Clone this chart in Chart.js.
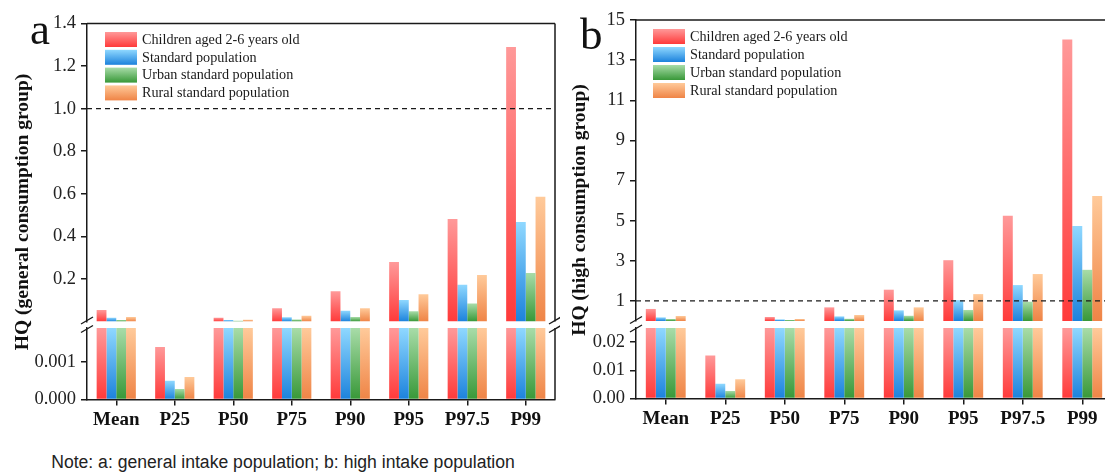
<!DOCTYPE html>
<html>
<head>
<meta charset="utf-8">
<title>HQ by percentile</title>
<script src="https://cdn.jsdelivr.net/npm/chart.js@4.4.1/dist/chart.umd.min.js"></script>
<style>
  html, body { margin: 0; padding: 0; background: #fff; }
  body { position: relative; width: 1105px; height: 472px; overflow: hidden; }
  canvas { position: absolute; }
  .serif { position: absolute; font-family: "Liberation Serif", "Times New Roman", serif; color: #111; white-space: nowrap; line-height: 1; }
  .panel { font-size: 45px; }
  .ytitle { font-size: 19.5px; font-weight: bold; transform: translate(-50%, -50%) rotate(-90deg); }
  .note { position: absolute; font-family: "Liberation Sans", Arial, sans-serif; font-size: 17.6px; color: #222; white-space: nowrap; line-height: 1; transform: translate(-50%, -50%); }
</style>
</head>
<body>
<canvas id="aTop" width="560" height="340" style="left:0px;top:0px"></canvas>
<canvas id="aBot" width="560" height="120" style="left:0px;top:312px"></canvas>
<canvas id="bTop" width="560" height="340" style="left:560px;top:0px"></canvas>
<canvas id="bBot" width="560" height="120" style="left:560px;top:312px"></canvas>

<div class="serif panel" style="left:30px;top:7px">a</div>
<div class="serif panel" style="left:580px;top:12px">b</div>
<div class="serif ytitle" style="left:22px;top:212px">HQ (general consumption group)</div>
<div class="serif ytitle" style="left:579px;top:210px">HQ (high consumption group)</div>
<div class="note" style="left:283px;top:463px">Note: a: general intake population; b: high intake population</div>

<script>
// categories and series names
var categories = ['Mean', 'P25', 'P50', 'P75', 'P90', 'P95', 'P97.5', 'P99'];
var seriesNames = ['Children aged 2-6 years old', 'Standard population', 'Urban standard population', 'Rural standard population'];

// a: general intake population
var aChildren = [0.054, 0.0014, 0.018, 0.062, 0.142, 0.279, 0.481, 1.29];
var aStandard = [0.018, 0.0005, 0.007, 0.020, 0.051, 0.101, 0.173, 0.467];
var aUrban    = [0.007, 0.00028, 0.004, 0.009, 0.021, 0.048, 0.084, 0.228];
var aRural    = [0.021, 0.0006, 0.008, 0.027, 0.062, 0.128, 0.218, 0.586];

// b: high intake population
var bChildren = [0.60, 0.0153, 0.20, 0.68, 1.56, 3.03, 5.24, 14.03];
var bStandard = [0.18, 0.0052, 0.08, 0.23, 0.53, 1.04, 1.79, 4.74];
var bUrban    = [0.10, 0.0027, 0.05, 0.11, 0.26, 0.55, 0.96, 2.55];
var bRural    = [0.25, 0.0068, 0.10, 0.30, 0.68, 1.34, 2.34, 6.23];

// tick labels of the broken axes
var aTopTicks = [0.2, 0.4, 0.6, 0.8, 1.0, 1.2, 1.4];
var aBotTicks = [0, 0.001];
var bTopTicks = [1, 3, 5, 7, 9, 11, 13, 15];
var bBotTicks = [0, 0.01, 0.02];

var shades = [
	['#ff9999', '#ff3a3a'],
	['#8fd8ff', '#1c82dc'],
	['#a8dca8', '#389838'],
	['#ffca9a', '#ef8446']
];
var ink = '#1a1a1a';
var serif = '"Liberation Serif", "Times New Roman", serif';

function barFill(i) {
	return function(c) {
		var chart = c.chart, s = chart.scales.y;
		if (c.type !== 'data' || !s) return shades[i][1];
		var top = s.getPixelForValue(Math.min(c.raw, s.max));
		var base = s.getPixelForValue(0);
		if (!isFinite(top) || !isFinite(base)) return shades[i][1];
		if (base - top < 0.5) return 'rgba(0,0,0,0)'; // below a pixel: nothing shows
		var g = chart.ctx.createLinearGradient(0, top, 0, base);
		g.addColorStop(0, shades[i][0]);
		g.addColorStop(1, shades[i][1]);
		return g;
	};
}

// frame, dashed HQ = 1 line, axis break marks and the legend box
var decor = {
	id: 'decor',
	afterDatasetsDraw: function(chart, args, o) {
		var a = chart.chartArea, ctx = chart.ctx;
		ctx.save();
		ctx.strokeStyle = ink;
		ctx.lineWidth = 1.5;
		ctx.beginPath();
		if (o.top) { ctx.moveTo(a.left, a.top); ctx.lineTo(a.right, a.top); }
		ctx.moveTo(a.right, a.top); ctx.lineTo(a.right, a.bottom);
		ctx.stroke();

		if (o.refLine != null) {
			var y = chart.scales.y.getPixelForValue(o.refLine);
			ctx.setLineDash([5, 4]);
			ctx.lineWidth = 1.3;
			ctx.beginPath();
			ctx.moveTo(a.left, y); ctx.lineTo(a.right, y);
			ctx.stroke();
			ctx.setLineDash([]);
		}

		if (o.breaks) {
			ctx.lineWidth = 1.4;
			ctx.beginPath();
			[a.left, a.right].forEach(function(x) {
				[a.bottom - 1, a.bottom + 7.5].forEach(function(y) {
					ctx.moveTo(x - 6, y + 3.5);
					ctx.lineTo(x + 6, y - 3.5);
				});
			});
			ctx.stroke();
		}

		if (o.legend) {
			ctx.font = '14.2px ' + serif;
			ctx.textBaseline = 'middle';
			ctx.fillStyle = ink;
			chart.data.datasets.forEach(function(ds, i) {
				var x = a.left + o.legend.dx, y = a.top + o.legend.dy + i * o.legend.pitch;
				var g = ctx.createLinearGradient(0, y, 0, y + 15);
				g.addColorStop(0, shades[i][0]);
				g.addColorStop(1, shades[i][1]);
				ctx.fillStyle = g;
				ctx.fillRect(x, y, 32, 15);
				ctx.fillStyle = ink;
				ctx.fillText(ds.label, x + 37, y + 8);
			});
		}
		ctx.restore();
	}
};

function draw(id, series, p) {
	try {
		new Chart(document.getElementById(id), {
			type: 'bar',
			data: {
				labels: categories,
				datasets: series.map(function(vals, i) {
					return {
						label: seriesNames[i],
						data: vals,
						backgroundColor: barFill(i),
						borderWidth: 0,
						inflateAmount: 0,
						categoryPercentage: 0.67,
						barPercentage: 1.0
					};
				})
			},
			options: {
				responsive: false,
				animation: false,
				devicePixelRatio: 1,
				layout: { padding: { left: 0, right: p.right, top: p.top, bottom: p.bottom } },
				plugins: {
					legend: { display: false },
					tooltip: { enabled: false },
					decor: { top: p.frameTop, refLine: p.refLine, breaks: p.breaks, legend: p.legend }
				},
				scales: {
					x: {
						display: p.showX,
						offset: true,
						grid: { drawOnChartArea: false, offset: false, tickLength: 6, color: ink, lineWidth: 1.5 },
						border: { display: true, color: ink, width: 1.5 },
						ticks: { color: '#111', padding: 3, font: { family: serif, size: 19, weight: 'bold' } },
						afterFit: function(s) { if (p.xHeight) s.height = p.xHeight; }
					},
					y: {
						min: 0,
						max: p.max,
						grid: { drawOnChartArea: false, tickLength: 6, color: ink, lineWidth: 1.5 },
						border: { display: true, color: ink, width: 1.5 },
						ticks: {
							color: '#222',
							padding: 5,
							font: { family: serif, size: 18.5 },
							callback: function(v) { return Number(v).toFixed(p.decimals); }
						},
						afterBuildTicks: function(s) {
							s.ticks = p.ticks.map(function(v) { return { value: v }; });
						},
						afterFit: function(s) { s.width = p.axisWidth; }
					}
				}
			},
			plugins: [decor]
		});
	} catch (e) {
		console.error(e);
	}
}

var aSeries = [aChildren, aStandard, aUrban, aRural];
var bSeries = [bChildren, bStandard, bUrban, bRural];

draw('aTop', aSeries, { max: 1.4, ticks: aTopTicks, decimals: 1, axisWidth: 87, right: 5, top: 23.5, bottom: 18.5,
	showX: false, frameTop: true, refLine: 1.0, breaks: true, legend: { dx: 18, dy: 8.5, pitch: 17.8 } });
draw('aBot', aSeries, { max: 0.0019, ticks: aBotTicks, decimals: 3, axisWidth: 87, right: 5, top: 16, bottom: 0,
	showX: true, xHeight: 32.5, frameTop: false, refLine: null, breaks: false, legend: null });
draw('bTop', bSeries, { max: 15, ticks: bTopTicks, decimals: 0, axisWidth: 76, right: 8, top: 20, bottom: 19,
	showX: false, frameTop: true, refLine: 1, breaks: true, legend: { dx: 17, dy: 9, pitch: 18 } });
draw('bBot', bSeries, { max: 0.025, ticks: bBotTicks, decimals: 2, axisWidth: 76, right: 8, top: 15.5, bottom: 0,
	showX: true, xHeight: 33.5, frameTop: false, refLine: null, breaks: false, legend: null });
</script>
</body>
</html>
